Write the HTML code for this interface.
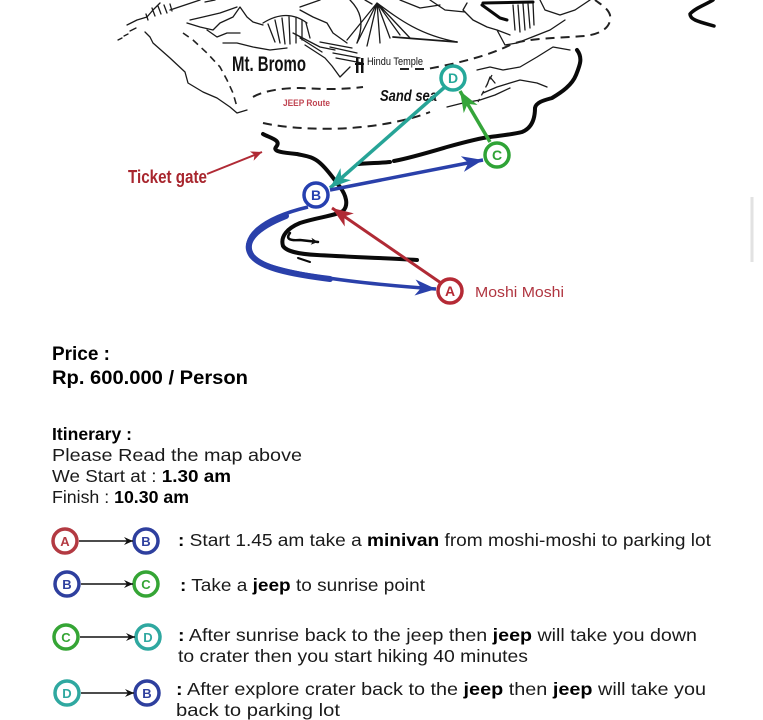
<!DOCTYPE html>
<html><head><meta charset="utf-8"><style>
html,body{margin:0;padding:0;background:#fff;}
svg{display:block;}
</style></head><body>
<svg width="763" height="720" viewBox="0 0 763 720" xmlns="http://www.w3.org/2000/svg" font-family="'Liberation Sans', sans-serif">
<defs>
<marker id="mRed" viewBox="-22 -10 24 20" refX="0" refY="0" markerWidth="24" markerHeight="20" markerUnits="userSpaceOnUse" orient="auto"><path d="M0,0 L-21,-8 L-15,0 L-21,8 Z" fill="#b02a35"/></marker>
<marker id="mBlue" viewBox="-22 -10 24 20" refX="0" refY="0" markerWidth="24" markerHeight="20" markerUnits="userSpaceOnUse" orient="auto"><path d="M0,0 L-21,-8 L-15,0 L-21,8 Z" fill="#2a40aa"/></marker>
<marker id="mTeal" viewBox="-22 -10 24 20" refX="0" refY="0" markerWidth="24" markerHeight="20" markerUnits="userSpaceOnUse" orient="auto"><path d="M0,0 L-21,-8 L-15,0 L-21,8 Z" fill="#27a497"/></marker>
<marker id="mGreen" viewBox="-22 -10 24 20" refX="0" refY="0" markerWidth="24" markerHeight="20" markerUnits="userSpaceOnUse" orient="auto"><path d="M0,0 L-21,-8 L-15,0 L-21,8 Z" fill="#35a53a"/></marker>
<marker id="mTg" viewBox="-12 -6 13 12" refX="0" refY="0" markerWidth="13" markerHeight="12" markerUnits="userSpaceOnUse" orient="auto"><path d="M0,0 L-11,-5 L-8,0 L-11,5 Z" fill="#b02a35"/></marker>
<marker id="mBlk" viewBox="-10 -5 11 10" refX="0" refY="0" markerWidth="11" markerHeight="10" markerUnits="userSpaceOnUse" orient="auto"><path d="M0,0 L-9,-4 L-6,0 L-9,4 Z" fill="#111"/></marker>
<marker id="mBlkS" viewBox="-8 -4 9 8" refX="0" refY="0" markerWidth="9" markerHeight="8" markerUnits="userSpaceOnUse" orient="auto"><path d="M0,0 L-7,-3.5 L-5,0 L-7,3.5 Z" fill="#111"/></marker>
</defs>

<!-- ===== MAP SKETCH (thin lines) ===== -->
<g fill="none" stroke="#1a1a1a" stroke-width="1.3" stroke-linecap="round" stroke-linejoin="round">
  <path d="M127,25 L137,20 L147,17 L153,10 L160,3"/>
  <path d="M145,32 L150,37 L153,43 L170,58 L185,72 L188,83 L203,92 L217,98 L230,107 L237,113 L247,110"/>
  <path d="M130,31 L136,28 M124,36 L128,34 M118,40 L122,38"/>
  <path d="M152,8 l3,8 M158,6 l3,8 M164,5 l3,8 M146,14 l2,6 M170,4 l2,7"/>
  <path d="M187,23 L200,27 L213,30 L220,23 L233,17 L240,7 L247,17 L253,22 L263,25"/>
  <path d="M190,20 L203,17 L220,13 L237,7"/>
  <path d="M207,30 L217,37 L227,33 L240,33"/>
  <path d="M223,43 L237,43 L253,47 L270,50 L287,48"/>
  <path d="M170,10 L185,5 L200,0 M205,2 L215,0"/>
  <path d="M263,23 Q287,8 307,23"/>
  <path d="M268,24 L275,42 M275,20 L280,43 M282,18 L285,44 M289,17 L290,44 M296,18 L296,43 M302,20 L302,40 M306,23 L310,38"/>
  <path d="M293,33 L320,47 L335,50 M300,38 L322,52 M305,45 L325,58 L332,66 L340,77 L350,67"/>
  <path d="M320,42 L352,48 M330,47 L357,53 M333,53 L360,58 M336,58 L362,63"/>
  <path d="M300,7 L320,0 M300,10 L313,17 L327,23 L333,33 L347,43"/>
  <path d="M377,3 L347,40 M377,3 L357,43 M377,3 L367,46 M377,3 L380,43 M377,3 L390,38 M377,3 L400,35 M377,3 L410,38 M377,3 C400,20 420,35 457,42"/>
  <path d="M350,0 C360,10 365,22 357,43 M365,0 L372,4"/>
  <path d="M393,37 L457,42" stroke-width="1.8"/>
  <path d="M400,0 L420,8 L440,5 M430,0 L445,10 L465,12"/>
  <path d="M513,5 L515,30 M518,5 L520,32 M523,4 L525,30 M528,4 L530,28 M533,3 L534,25"/>
  <path d="M467,3 L463,10 L473,20 L487,27 L497,30 L510,35 M497,30 L505,45 L517,43 L550,30 L565,20"/>
  <path d="M540,0 L545,10 L560,15 L575,10 L590,0"/>
  <path d="M477,70 L490,67 L503,70 L520,67 L537,57 L553,47 L570,50"/>
  <path d="M483,93 L497,87 L510,83 L520,80 L537,83 L547,87"/>
  <path d="M447,107 L463,103 L480,100 L495,95 L510,88"/>
  <path d="M487,85 L490,77 L495,83"/>
</g>

<!-- dashed routes -->
<g fill="none" stroke="#222" stroke-width="2" stroke-dasharray="9 6" stroke-linecap="butt">
  <path d="M183,33 L193,40 L207,53 L220,67 L227,80 L233,93 L237,107" stroke-width="1.6" stroke-dasharray="7 5"/>
  <path d="M253,97 C265,90 285,88 300,88 C320,89 340,90 363,87"/>
  <path d="M400,69 L427,69 C460,63 490,55 510,45 C525,38 560,38 585,36 C600,34 612,28 610,15 C608,8 600,4 595,0"/>
  <path d="M263,123 C285,128 320,130 350,128 C380,126 410,120 430,112"/>
  <path d="M492,75 L478,102" stroke-width="1.3" stroke-dasharray="5 4"/>
</g>

<!-- thick black lines -->
<g fill="none" stroke="#0a0a0a" stroke-width="4" stroke-linecap="round" stroke-linejoin="round">
  <path d="M263,134 C270,138 282,140 276,147 C272,152 286,153 297,154 C305,156 312,156 320,163 C328,170 333,178 340,187 C346,195 349,205 343,211 C335,216 318,217 300,223 C288,228 280,236 283,246 C287,252 300,254 317,255 C350,257 385,258 417,260"/>
  <path d="M358,164 C370,163 380,163 390,162 M394,161 C410,158 430,152 447,147 C465,142 480,138 490,137 C505,135 515,134 522,132 C532,128 535,118 535,108 C536,102 545,100 552,98 C562,92 572,85 576,75 C580,65 583,58 577,50"/>
  <path d="M482,5 L500,18 L507,20 M483,3 L533,2" stroke-width="3"/>
  <path d="M713,0 C705,5 695,8 690,14 C690,20 700,22 714,26" stroke-width="3.5"/>
  <path d="M290,233 C286,238 288,241 300,240 L318,242" stroke-width="2.5" marker-end="url(#mBlkS)"/>
  <path d="M298,258 L310,262" stroke-width="2"/>
</g>

<line x1="752" y1="197" x2="752" y2="262" stroke="#e2e2e2" stroke-width="3"/>

<!-- map labels -->
<text x="232" y="71" font-size="21" font-weight="bold" fill="#111" textLength="74" lengthAdjust="spacingAndGlyphs">Mt. Bromo</text>
<g fill="#111"><rect x="356" y="58" width="2.5" height="15"/><rect x="361" y="58" width="2.5" height="15"/><rect x="355" y="63" width="9" height="2"/></g>
<text x="367" y="65" font-size="11" fill="#111" textLength="56" lengthAdjust="spacingAndGlyphs">Hindu Temple</text>
<text x="283" y="106" font-size="9" font-weight="bold" fill="#c04552" textLength="47" lengthAdjust="spacingAndGlyphs">JEEP Route</text>
<text x="380" y="101" font-size="16" font-weight="bold" font-style="italic" fill="#111" textLength="57" lengthAdjust="spacingAndGlyphs">Sand sea</text>
<text x="128" y="183" font-size="18" font-weight="bold" fill="#a8262e" textLength="79" lengthAdjust="spacingAndGlyphs">Ticket gate</text>
<line x1="207" y1="174" x2="262" y2="152" stroke="#b02a35" stroke-width="2" marker-end="url(#mTg)"/>
<text x="475" y="297" font-size="15" fill="#b03540" textLength="89" lengthAdjust="spacingAndGlyphs">Moshi Moshi</text>

<!-- route arrows -->
<path d="M286,216 C256,228 242,242 252,256 C262,268 290,274 330,279" fill="none" stroke="#2a40aa" stroke-width="6" stroke-linecap="round"/>
<path d="M308,207 C262,218 238,238 252,256 C266,272 350,283 436,289" fill="none" stroke="#2a40aa" stroke-width="3.5" marker-end="url(#mBlue)"/>
<line x1="441" y1="283" x2="332" y2="208" stroke="#b02a35" stroke-width="3" marker-end="url(#mRed)"/>
<line x1="446" y1="86" x2="330" y2="188" stroke="#27a497" stroke-width="3.5" marker-end="url(#mTeal)"/>
<line x1="330" y1="190" x2="483" y2="160" stroke="#2a40aa" stroke-width="3.5" marker-end="url(#mBlue)"/>
<line x1="490" y1="142" x2="460" y2="91" stroke="#35a53a" stroke-width="3.5" marker-end="url(#mGreen)"/>

<!-- map circles -->
<g stroke-width="3.5" fill="#fff" font-size="14" font-weight="600" text-anchor="middle">
  <circle cx="450" cy="291" r="12" stroke="#b52a35"/><text x="450" y="296" fill="#b52a35" stroke="none">A</text>
  <circle cx="316" cy="195" r="12" stroke="#2640b0"/><text x="316" y="200" fill="#2640b0" stroke="none">B</text>
  <circle cx="497" cy="155" r="12" stroke="#2fa336"/><text x="497" y="160" fill="#2fa336" stroke="none">C</text>
  <circle cx="453" cy="78" r="12" stroke="#25a89a"/><text x="453" y="83" fill="#25a89a" stroke="none">D</text>
</g>

<!-- ===== TEXT SECTION ===== -->
<text x="52" y="360" font-size="19.5" font-weight="bold" fill="#000" textLength="58" lengthAdjust="spacingAndGlyphs">Price :</text>
<text x="52" y="384" font-size="19.5" font-weight="bold" fill="#000" textLength="196" lengthAdjust="spacingAndGlyphs">Rp. 600.000 / Person</text>

<text x="52" y="440" font-size="17.5" font-weight="bold" fill="#000" textLength="80" lengthAdjust="spacingAndGlyphs">Itinerary :</text>
<text x="52" y="461" font-size="17.5" fill="#1a1a1a" textLength="250" lengthAdjust="spacingAndGlyphs">Please Read the map above</text>
<text x="52" y="482" font-size="17.5" fill="#1a1a1a" textLength="179" lengthAdjust="spacingAndGlyphs">We Start at : <tspan font-weight="bold" fill="#000">1.30 am</tspan></text>
<text x="52" y="503" font-size="17.5" fill="#1a1a1a" textLength="137" lengthAdjust="spacingAndGlyphs">Finish : <tspan font-weight="bold" fill="#000">10.30 am</tspan></text>

<!-- legend -->
<g stroke-width="3.5" fill="#fff" font-size="13" font-weight="600" text-anchor="middle">
  <circle cx="65" cy="541" r="12" stroke="#b33a42"/><text x="65" y="546" fill="#b33a42" stroke="none">A</text>
  <circle cx="146" cy="541" r="12" stroke="#2e3f9e"/><text x="146" y="546" fill="#2e3f9e" stroke="none">B</text>
  <circle cx="67" cy="584" r="12" stroke="#2e3f9e"/><text x="67" y="589" fill="#2e3f9e" stroke="none">B</text>
  <circle cx="146" cy="584" r="12" stroke="#35a535"/><text x="146" y="589" fill="#35a535" stroke="none">C</text>
  <circle cx="66" cy="637" r="12" stroke="#35a535"/><text x="66" y="642" fill="#35a535" stroke="none">C</text>
  <circle cx="148" cy="637" r="12" stroke="#2fa8a0"/><text x="148" y="642" fill="#2fa8a0" stroke="none">D</text>
  <circle cx="67" cy="693" r="12" stroke="#2fa8a0"/><text x="67" y="698" fill="#2fa8a0" stroke="none">D</text>
  <circle cx="147" cy="693" r="12" stroke="#2e3f9e"/><text x="147" y="698" fill="#2e3f9e" stroke="none">B</text>
</g>
<g stroke="#111" stroke-width="1.4" fill="none">
  <line x1="79" y1="541" x2="133" y2="541" marker-end="url(#mBlk)"/>
  <line x1="81" y1="584" x2="133" y2="584" marker-end="url(#mBlk)"/>
  <line x1="80" y1="637" x2="135" y2="637" marker-end="url(#mBlk)"/>
  <line x1="81" y1="693" x2="134" y2="693" marker-end="url(#mBlk)"/>
</g>

<g font-size="17.5" fill="#1a1a1a">
<text x="178" y="546" textLength="533" lengthAdjust="spacingAndGlyphs"><tspan font-weight="bold" fill="#000">:</tspan> Start 1.45 am take a <tspan font-weight="bold" fill="#000">minivan</tspan> from moshi-moshi to parking lot</text>
<text x="180" y="591" textLength="245" lengthAdjust="spacingAndGlyphs"><tspan font-weight="bold" fill="#000">:</tspan> Take a <tspan font-weight="bold" fill="#000">jeep</tspan> to sunrise point</text>
<text x="178" y="641" textLength="519" lengthAdjust="spacingAndGlyphs"><tspan font-weight="bold" fill="#000">:</tspan> After sunrise back to the jeep then <tspan font-weight="bold" fill="#000">jeep</tspan> will take you down</text>
<text x="178" y="662" textLength="350" lengthAdjust="spacingAndGlyphs">to crater then you start hiking 40 minutes</text>
<text x="176" y="695" textLength="530" lengthAdjust="spacingAndGlyphs"><tspan font-weight="bold" fill="#000">:</tspan> After explore crater back to the <tspan font-weight="bold" fill="#000">jeep</tspan> then <tspan font-weight="bold" fill="#000">jeep</tspan> will take you</text>
<text x="176" y="716" textLength="164" lengthAdjust="spacingAndGlyphs">back to parking lot</text>
</g>
</svg>
</body></html>
